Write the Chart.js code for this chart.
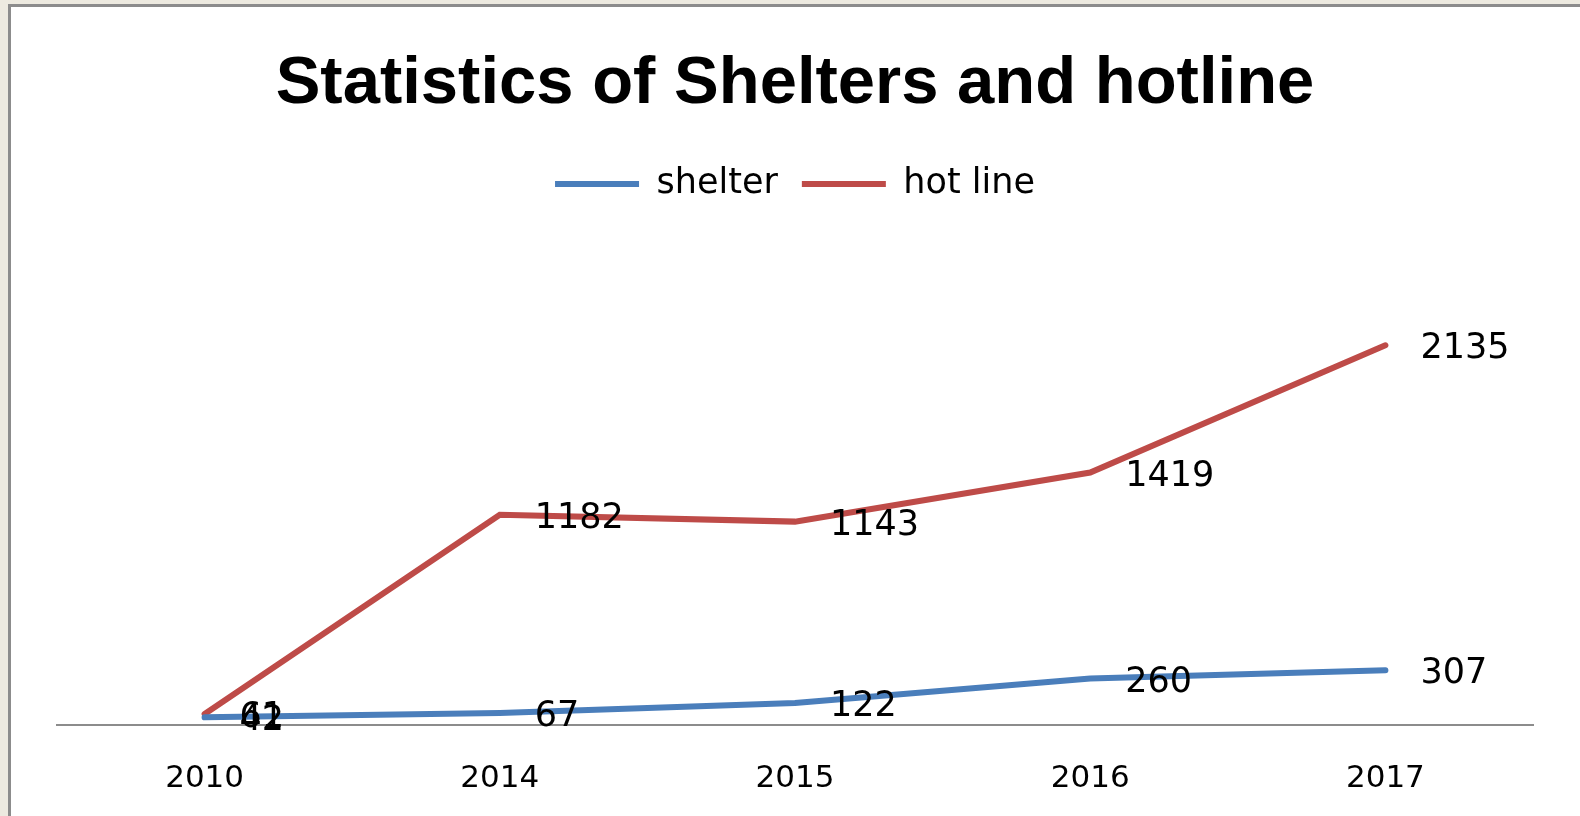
<!DOCTYPE html>
<html>
<head>
<meta charset="utf-8">
<script src="https://cdn.jsdelivr.net/npm/chart.js@4"></script>
<style>
  html, body { margin: 0; padding: 0; background: #EDEAE0; overflow: hidden; }
  #frame {
    position: absolute; left: 8px; top: 4px;
    width: 1572px; height: 830px;
    background: #fff;
    border-left: 3px solid #8c8c8c;
    border-top: 3px solid #8c8c8c;
  }
  #wrap { position: absolute; left: 0; top: 0; width: 1569px; height: 827px; }
</style>
</head>
<body>
<div id="frame">
  <div id="wrap"><canvas id="myChart"></canvas></div>
</div>
<script>
    const years = ['2010', '2014', '2015', '2016', '2017'];
    const shelter = [42, 67, 122, 260, 307];
    const hotline = [61, 1182, 1143, 1419, 2135];

    // value labels to the right of each point
    const valueLabels = {
      id: 'valueLabels',
      afterDatasetsDraw(chart) {
        const ctx = chart.ctx;
        ctx.save();
        ctx.font = '35px "DejaVu Sans"';
        ctx.fillStyle = '#000';
        ctx.textAlign = 'left';
        ctx.textBaseline = 'middle';
        chart.data.datasets.forEach((ds, i) => {
          chart.getDatasetMeta(i).data.forEach((pt, j) => {
            ctx.fillText(ds.data[j], pt.x + 35, pt.y + 4);
          });
        });
        ctx.restore();
      }
    };

    // extra room under the legend
    const legendGap = {
      id: 'legendGap',
      beforeInit(chart) {
        const fit = chart.legend.fit;
        chart.legend.fit = function () {
          fit.bind(chart.legend)();
          this.height += 69;
        };
      }
    };

    const data = {
      labels: years,
      datasets: [{
        label: 'shelter',
        data: shelter,
        borderColor: '#4A7EBB',
        backgroundColor: '#4A7EBB',
        borderWidth: 6,
        borderCapStyle: 'round',
        pointRadius: 0,
        pointStyle: 'line'
      }, {
        label: 'hot line',
        data: hotline,
        borderColor: '#BE4B48',
        backgroundColor: '#BE4B48',
        borderWidth: 6,
        borderCapStyle: 'round',
        pointRadius: 0,
        pointStyle: 'line'
      }]
    };

    const config = {
      type: 'line',
      data: data,
      plugins: [valueLabels, legendGap],
      options: {
        responsive: true,
        maintainAspectRatio: false,
        animation: false,
        layout: { padding: { left: 46, right: 47, top: 0, bottom: 0 } },
        plugins: {
          title: {
            display: true,
            text: 'Statistics of Shelters and hotline',
            color: '#000',
            font: { family: '"Liberation Sans"', size: 67, weight: 'bold' },
            padding: { top: 37, bottom: 18 }
          },
          legend: {
            position: 'top',
            labels: {
              usePointStyle: true,
              pointStyleWidth: 84,
              color: '#000',
              font: { family: '"DejaVu Sans"', size: 35 },
              padding: 24
            }
          },
          tooltip: { enabled: false }
        },
        scales: {
          x: {
            offset: true,
            grid: { display: false, drawTicks: false },
            border: { display: true, color: '#8c8c8c', width: 2 },
            ticks: { color: '#000', font: { family: '"DejaVu Sans"', size: 31 }, padding: 36 }
          },
          y: {
            display: false,
            min: 0,
            max: 2500
          }
        }
      }
    };

    const myChart = new Chart(document.getElementById('myChart'), config);
</script>
</body>
</html>
